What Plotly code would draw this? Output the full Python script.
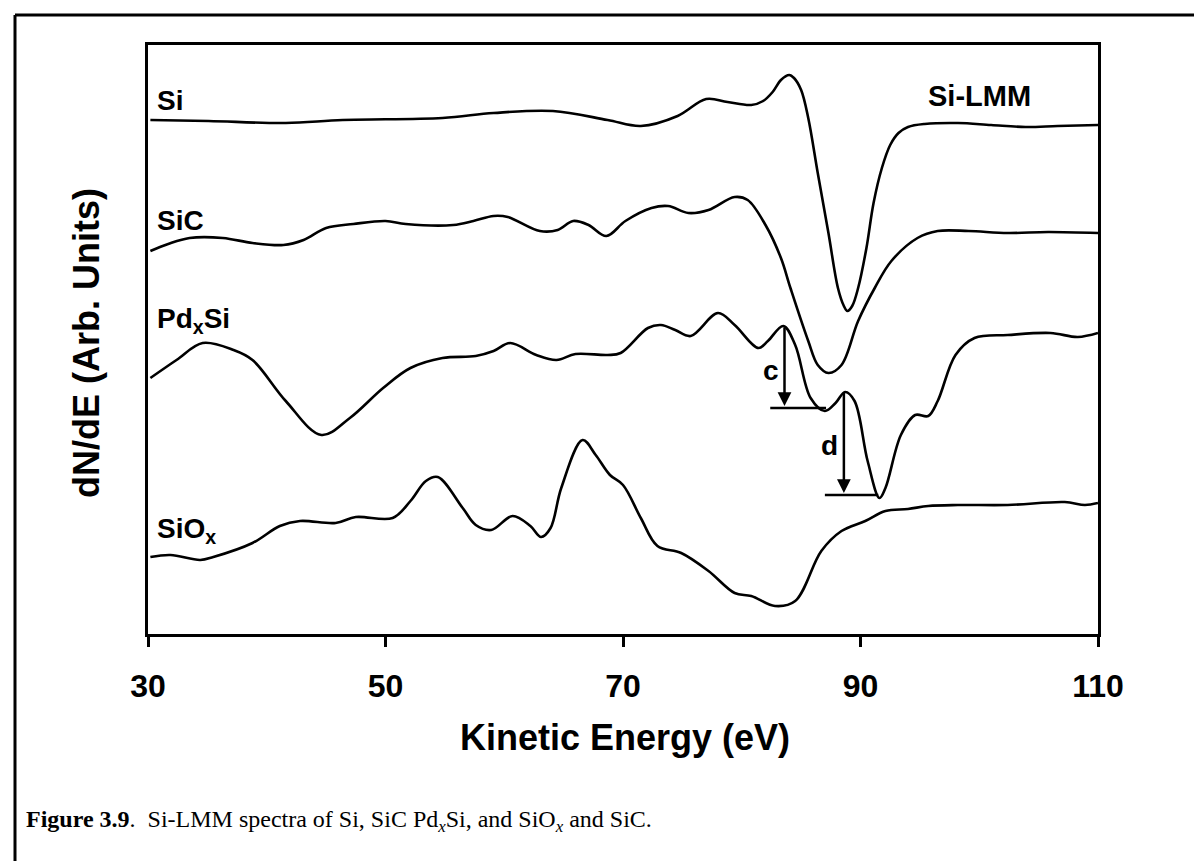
import plotly.graph_objects as go

# ---- data (Kinetic energy in eV, dN/dE in arbitrary units) ----
si_E = [30.2, 35.1, 41.6, 46.4, 54.8, 59.1, 64.1, 68.7, 71.5, 74.6, 77.0, 78.8, 80.8, 81.8, 82.6, 83.3,
        84.0, 84.4, 85.0, 85.6, 86.4, 87.3, 88.1, 88.6, 88.9, 89.3, 89.8, 90.5, 91.1, 91.8, 92.5, 93.2,
        94.0, 95.4, 98.2, 101.0, 103.9, 106.6, 110.0]
si_y = [514, 513, 511, 514, 516, 521, 523, 514, 508, 518, 535, 532, 529, 533, 542, 554,
        559, 556, 544, 516, 461, 401, 346, 328, 323, 328, 346, 386, 431, 466, 489, 501,
        507, 510, 511, 509, 507, 508, 509]

sic_E = [30.2, 31.7, 33.5, 36.3, 38.8, 41.4, 43.1, 45.0, 47.3, 50.0, 51.7, 55.7, 57.4, 59.1, 60.3, 63.0,
         64.5, 65.8, 67.1, 68.6, 70.2, 72.4, 73.8, 75.5, 77.2, 79.4, 80.5, 82.0, 83.3, 84.1, 85.6, 86.4,
         87.3, 88.4, 89.8, 91.2, 92.6, 94.8, 96.5, 99.1, 102.4, 105.8, 110.0]
sic_y = [383, 390, 396, 396, 391, 389, 394, 406, 410, 413, 410, 409, 413, 418, 417, 403,
         404, 413, 409, 398, 413, 426, 428, 421, 424, 437, 434, 409, 376, 346, 293, 269,
         261, 269, 313, 346, 373, 396, 403, 403, 401, 402, 401]

pdsi_E = [30.2, 32.4, 34.6, 37.2, 38.8, 41.6, 44.6, 47.0, 49.8, 52.1, 54.8, 57.6, 59.1, 60.5, 62.7, 64.4,
          66.0, 68.7, 69.8, 72.1, 73.2, 74.4, 75.7, 78.0, 79.4, 81.4, 82.2, 83.5, 84.5, 85.8, 87.0, 87.9,
          88.7, 89.5, 90.6, 91.6, 92.1, 93.4, 94.6, 95.7, 96.5, 98.0, 99.6, 102.4, 106.0, 108.3, 110.0]
pdsi_y = [256, 274, 291, 284, 274, 233, 199, 216, 246, 266, 276, 278, 283, 291, 279, 274,
          280, 279, 281, 306, 309, 304, 298, 321, 309, 286, 293, 308, 289, 236, 223, 231,
          242, 233, 173, 136, 146, 199, 219, 218, 233, 279, 296, 299, 301, 297, 301]

siox_E = [30.2, 31.9, 34.4, 35.5, 38.8, 41.1, 42.8, 45.8, 47.5, 50.6, 52.1, 53.4, 54.4, 56.5, 57.6, 58.9,
          60.7, 62.2, 63.1, 63.9, 64.8, 66.6, 67.7, 68.9, 70.0, 71.5, 72.9, 74.9, 77.2, 79.4, 80.8, 82.8,
          84.5, 86.7, 88.4, 90.4, 92.1, 94.0, 95.7, 98.2, 102.4, 107.2, 108.9, 110.0]
siox_y = [77, 79, 74, 77, 91, 108, 113, 111, 117, 116, 133, 153, 157, 126, 109, 104,
          118, 108, 97, 106, 146, 194, 179, 159, 149, 116, 88, 81, 63, 41, 38, 28,
          33, 83, 103, 113, 123, 125, 128, 129, 129, 132, 129, 131]

x_ticks = [30, 50, 70, 90, 110]

# ---- layout geometry (pixels) ----
W, H = 1202, 861
L, R, T, B = 140, 112, 37, 235
PW, PH = W - L - R, H - T - B


def px(xp):
    return (xp - L) / PW


def py(yp):
    return (H - B - yp) / PH


fig = go.Figure()
for E, y in [(si_E, si_y), (sic_E, sic_y), (pdsi_E, pdsi_y), (siox_E, siox_y)]:
    fig.add_trace(go.Scatter(x=E, y=y, mode="lines",
                             line=dict(color="black", width=2.6, shape="spline", smoothing=1.0),
                             showlegend=False, hoverinfo="skip"))

SANS = "Liberation Sans, Arial"
lab_font = dict(family=SANS, size=28, color="black")
series_labels = [("<b>Si</b>", 30.6, 534), ("<b>SiC</b>", 30.6, 414),
                 ("<b>Pd<sub>x</sub>Si</b>", 30.6, 314), ("<b>SiO<sub>x</sub></b>", 30.6, 104)]
ann = []
for t, x, y in series_labels:
    ann.append(dict(text=t, x=x, y=y, xref="x", yref="y", xanchor="left", yanchor="middle",
                    showarrow=False, font=lab_font))
ann.append(dict(text="<b>Si-LMM</b>", x=100.0, y=538, xref="x", yref="y", showarrow=False,
                font=dict(family=SANS, size=29, color="black")))
ann.append(dict(text="<b>c</b>", x=82.5, y=264, xref="x", yref="y", showarrow=False, font=lab_font))
ann.append(dict(text="<b>d</b>", x=87.4, y=189, xref="x", yref="y", showarrow=False, font=lab_font))

# arrows c and d
for xh, yh, yt in [(83.6, 228, 308), (88.6, 141, 243)]:
    ann.append(dict(x=xh, y=yh, ax=xh, ay=yt, xref="x", yref="y", axref="x", ayref="y", text="",
                    showarrow=True, arrowhead=2, arrowsize=1.1, arrowwidth=2.5, arrowcolor="black"))

# axis titles and caption
ann.append(dict(text="<b>Kinetic Energy (eV)</b>", x=px(617), y=py(730), xref="paper", yref="paper",
                xanchor="center", yanchor="middle", showarrow=False,
                font=dict(family=SANS, size=36, color="black")))
ann.append(dict(text="<b>dN/dE (Arb. Units)</b>", x=px(78), y=py(335), xref="paper", yref="paper",
                xanchor="center", yanchor="middle", showarrow=False, textangle=-90,
                font=dict(family=SANS, size=36, color="black")))
ann.append(dict(text="<b>Figure 3.9</b>.  Si-LMM spectra of Si, SiC Pd<i><sub>x</sub></i>Si, and SiO<i><sub>x</sub></i> and SiC.",
                x=px(16), y=py(813), xref="paper", yref="paper", xanchor="left", yanchor="middle",
                showarrow=False, font=dict(family="Liberation Serif, Times New Roman", size=24, color="black")))

shapes = [
    # baseline segments under arrows
    dict(type="line", xref="x", yref="y", x0=82.4, x1=87.1, y0=226, y1=226, line=dict(color="black", width=2.5)),
    dict(type="line", xref="x", yref="y", x0=87.0, x1=91.5, y0=139, y1=139, line=dict(color="black", width=2.5)),
    # outer figure frame (top and left)
    dict(type="line", xref="paper", yref="paper", x0=px(7), x1=px(1202), y0=py(7), y1=py(7),
         line=dict(color="black", width=3)),
    dict(type="line", xref="paper", yref="paper", x0=px(7), x1=px(7), y0=py(7), y1=py(861),
         line=dict(color="black", width=3)),
]

fig.update_layout(
    width=W, height=H, margin=dict(l=L, r=R, t=T, b=B),
    paper_bgcolor="white", plot_bgcolor="white",
    annotations=ann, shapes=shapes,
    xaxis=dict(range=[30, 110], tickvals=x_ticks, ticktext=[str(v) for v in x_ticks],
               showline=True, linecolor="black", linewidth=2.5, mirror=True,
               ticks="outside", ticklen=10, tickwidth=2.5, tickcolor="black",
               showgrid=False, zeroline=False, ticklabelstandoff=12,
               tickfont=dict(family=SANS, size=32, color="black", weight="bold")),
    yaxis=dict(range=[0, PH], showticklabels=False, ticks="",
               showline=True, linecolor="black", linewidth=2.5, mirror=True,
               showgrid=False, zeroline=False),
)

fig.write_html("out.html")
